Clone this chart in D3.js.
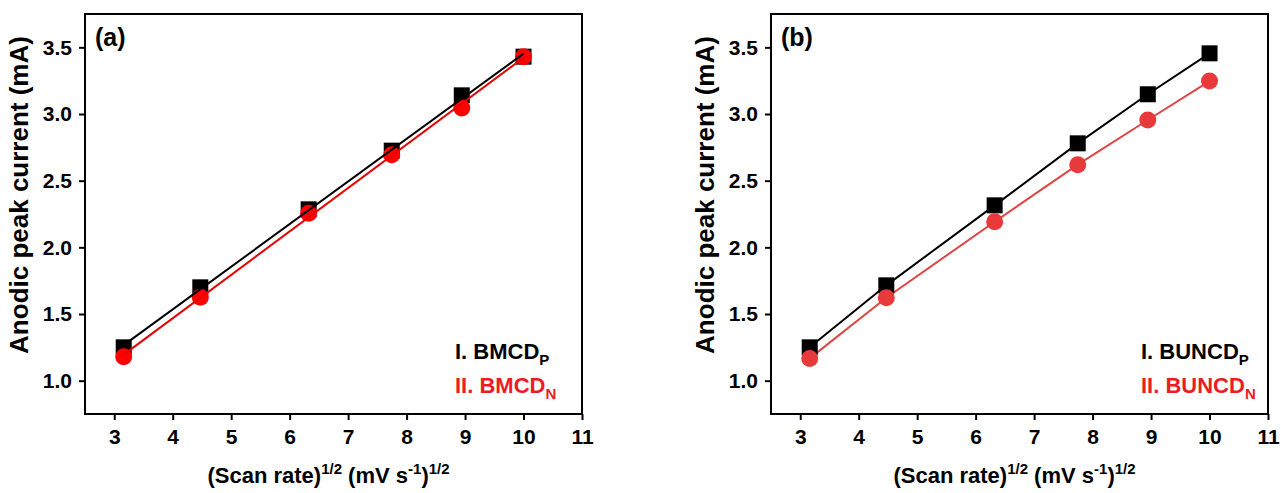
<!DOCTYPE html>
<html>
<head>
<meta charset="utf-8">
<script src="https://cdn.jsdelivr.net/npm/d3@7"></script>
<style>
  body { margin: 0; background: #fff; }
  text { font-family: "Liberation Sans", Arial, sans-serif; font-weight: bold; }
</style>
</head>
<body>
<svg id="chart" width="1281" height="493"></svg>
<script>
// sqrt of scan rate (10, 20, 40, 60, 80, 100 mV/s)
const scanRateSqrt = [3.162, 4.472, 6.325, 7.746, 8.944, 10];

// panel (a) peak currents, mA
const bmcdP = [1.25, 1.70, 2.285, 2.725, 3.14, 3.43];
const bmcdN = [1.18, 1.625, 2.255, 2.695, 3.045, 3.43];

// panel (b) peak currents, mA
const buncdP = [1.25, 1.715, 2.315, 2.78, 3.148, 3.455];
const buncdN = [1.167, 1.622, 2.192, 2.62, 2.955, 3.247];

const xTicks = [3, 4, 5, 6, 7, 8, 9, 10, 11];
const yTicks = [1.0, 1.5, 2.0, 2.5, 3.0, 3.5];

const svg = d3.select("#chart");

class Panel {
    constructor(_config) {
        this.config = _config;
        this.initVis();
    }

    initVis() {
        let vis = this;
        let c = vis.config;

        vis.g = svg.append("g");

        vis.xScale = d3.scaleLinear().domain([2.5, 11]).range([c.left, c.right]);
        vis.yScale = d3.scaleLinear().domain([0.75, 3.75]).range([c.bottom, c.top]);

        vis.xAxis = d3.axisBottom(vis.xScale).tickValues(xTicks)
            .tickSize(6).tickPadding(9).tickSizeOuter(0).tickFormat(d3.format("d"));
        vis.yAxis = d3.axisLeft(vis.yScale).tickValues(yTicks)
            .tickSize(6).tickPadding(7).tickSizeOuter(0).tickFormat(d3.format(".1f"));

        vis.xAxisG = vis.g.append("g")
            .attr("transform", `translate(0,${c.bottom})`)
            .call(vis.xAxis);
        vis.yAxisG = vis.g.append("g")
            .attr("transform", `translate(${c.left},0)`)
            .call(vis.yAxis);

        [vis.xAxisG, vis.yAxisG].forEach(a => {
            a.select(".domain").remove();
            a.selectAll(".tick line").attr("stroke", "#000").attr("stroke-width", 2);
            a.selectAll(".tick text").attr("fill", "#000").style("font-size", "21px");
        });

        // frame
        vis.g.append("rect")
            .attr("x", c.left).attr("y", c.top)
            .attr("width", c.right - c.left).attr("height", c.bottom - c.top)
            .attr("fill", "none").attr("stroke", "#000").attr("stroke-width", 2);

        // axis titles
        let midX = (c.left + c.right) / 2 - 5;
        let xt = vis.g.append("text")
            .attr("x", midX).attr("y", 483)
            .attr("text-anchor", "middle")
            .style("font-size", "22px");
        xt.append("tspan").text("(Scan rate)");
        xt.append("tspan").attr("dy", -9).style("font-size", "15px").text("1/2");
        xt.append("tspan").attr("dy", 9).text(" (mV s");
        xt.append("tspan").attr("dy", -9).style("font-size", "15px").text("-1");
        xt.append("tspan").attr("dy", 9).text(")");
        xt.append("tspan").attr("dy", -9).style("font-size", "15px").text("1/2");

        vis.g.append("text")
            .attr("transform", `translate(${c.left - 57},${195}) rotate(-90)`)
            .attr("text-anchor", "middle")
            .style("font-size", "26px")
            .text("Anodic peak current (mA)");

        vis.g.append("text")
            .attr("x", c.left + 10).attr("y", 46)
            .style("font-size", "25px")
            .text(c.label);

        // legend
        c.legend.forEach((l, i) => {
            let t = vis.g.append("text")
                .attr("x", c.legendX).attr("y", 359 + i * 34)
                .attr("fill", l.color)
                .style("font-size", "22px");
            t.append("tspan").text(l.text);
            t.append("tspan").attr("dy", 6).style("font-size", "15px").text(l.sub);
        });
    }

    renderVis() {
        let vis = this;
        let c = vis.config;

        let line = d3.line()
            .x(d => vis.xScale(d[0]))
            .y(d => vis.yScale(d[1]));

        let drawLines = () => {
            c.series.forEach(s => {
                let pts = scanRateSqrt.map((x, i) => [x, s.values[i]]);
                if (c.fit) {
                    // least squares fit through the points
                    let mx = d3.mean(scanRateSqrt), my = d3.mean(s.values);
                    let sxy = d3.sum(pts, p => (p[0] - mx) * (p[1] - my));
                    let sxx = d3.sum(pts, p => (p[0] - mx) ** 2);
                    let k = sxy / sxx, b = my - k * mx;
                    let x0 = d3.min(scanRateSqrt), x1 = d3.max(scanRateSqrt);
                    pts = [[x0, k * x0 + b], [x1, k * x1 + b]];
                }
                vis.g.append("path")
                    .datum(pts)
                    .attr("d", line)
                    .attr("fill", "none")
                    .attr("stroke", s.lineColor)
                    .attr("stroke-width", 2);
            });
        };

        let drawMarkers = () => {
            c.series.forEach(s => {
                let pts = scanRateSqrt.map((x, i) => [x, s.values[i]]);
                if (s.shape === "square") {
                    vis.g.selectAll(null).data(pts).join("rect")
                        .attr("x", d => vis.xScale(d[0]) - 8)
                        .attr("y", d => vis.yScale(d[1]) - 8)
                        .attr("width", 16).attr("height", 16)
                        .attr("fill", s.color);
                } else {
                    vis.g.selectAll(null).data(pts).join("circle")
                        .attr("cx", d => vis.xScale(d[0]))
                        .attr("cy", d => vis.yScale(d[1]))
                        .attr("r", 8.5)
                        .attr("fill", s.color);
                }
            });
        };

        if (c.fit) { drawMarkers(); drawLines(); }
        else { drawLines(); drawMarkers(); }
    }
}

const panelA = new Panel({
    left: 85, right: 582, top: 14, bottom: 414,
    label: "(a)", fit: true, legendX: 455,
    series: [
        { values: bmcdP, shape: "square", color: "#000", lineColor: "#000" },
        { values: bmcdN, shape: "circle", color: "#ff0000", lineColor: "#e80000" }
    ],
    legend: [
        { text: "I. BMCD", sub: "P", color: "#000" },
        { text: "II. BMCD", sub: "N", color: "#ec1c24" }
    ]
});
panelA.renderVis();

const panelB = new Panel({
    left: 771, right: 1268, top: 14, bottom: 414,
    label: "(b)", fit: false, legendX: 1141,
    series: [
        { values: buncdP, shape: "square", color: "#000", lineColor: "#000" },
        { values: buncdN, shape: "circle", color: "#e83a3a", lineColor: "#e04444" }
    ],
    legend: [
        { text: "I. BUNCD", sub: "P", color: "#000" },
        { text: "II. BUNCD", sub: "N", color: "#ec1c24" }
    ]
});
panelB.renderVis();
</script>
</body>
</html>
